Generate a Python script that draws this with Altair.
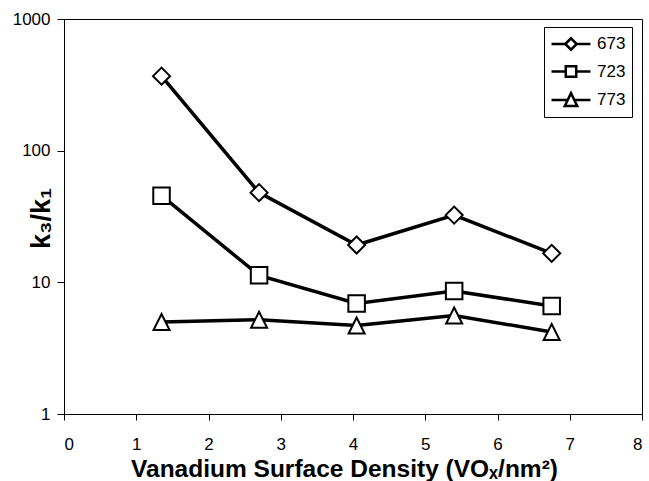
import altair as alt
import pandas as pd

# ---- data ----
density = [1.35, 2.7, 4.05, 5.4, 6.75]
k_673 = [368, 48, 19.2, 32.4, 16.6]
k_723 = [45.5, 11.3, 6.9, 8.6, 6.6]
k_773 = [5.0, 5.2, 4.7, 5.6, 4.2]
series_names = ["673", "723", "773"]
x_ticks = [0, 1, 2, 3, 4, 5, 6, 7, 8]
y_ticks = [1, 10, 100, 1000]

rows = []
for name, vals in zip(series_names, [k_673, k_723, k_773]):
    for d, v in zip(density, vals):
        rows.append({"x": d, "k": v, "series": name, "legend": name})
df = pd.DataFrame(rows)

FONT = "Liberation Sans"

x_enc = alt.X(
    "x:Q",
    scale=alt.Scale(domain=[0, 8], nice=False, zero=False),
    axis=alt.Axis(
        values=x_ticks,
        title="Vanadium Surface Density (VOₓ/nm²)",
        titleFontSize=24.5, titleFontWeight="bold", titleFont=FONT, titleColor="black",
        titleX=280, titleY=62, titleBaseline="alphabetic", titleAlign="center",
        labelFontSize=17, labelFont=FONT, labelColor="black", labelPadding=16,
        tickSize=6, tickColor="black", domainColor="black", grid=False,
    ),
)
y_enc = alt.Y(
    "k:Q",
    scale=alt.Scale(type="log", domain=[1, 1000], nice=False),
    axis=alt.Axis(
        values=y_ticks, format="d",
        title="k₃/k₁",
        titleFontSize=27, titleFontWeight="bold", titleFont=FONT, titleColor="black",
        titleX=-9, titleY=199, titleAngle=-90, titleBaseline="bottom", titleAlign="center",
        labelFontSize=17, labelFont=FONT, labelColor="black", labelPadding=7,
        tickSize=7, tickColor="black", domainColor="black", grid=False,
    ),
)

lines = alt.Chart(df).mark_line(color="black", strokeWidth=3.5).encode(
    x=x_enc, y=y_enc, detail="series:N"
)

points = alt.Chart(df).mark_point(
    filled=True, fill="white", stroke="black", strokeWidth=2, opacity=1
).encode(
    x=x_enc, y=y_enc,
    shape=alt.Shape(
        "series:N",
        scale=alt.Scale(domain=series_names, range=["diamond", "square", "M0,-1L1,1L-1,1Z"]),
        legend=None,
    ),
    size=alt.Size(
        "series:O",
        scale=alt.Scale(domain=series_names, range=[290, 256, 260]),
        legend=None,
    ),
)

legend_paths = [
    "M-2.05,0L-0.6,0M0.6,0L2.05,0M-0.6,0L0,-0.6L0.6,0L0,0.6Z",
    "M-2.05,0L-0.55,0M0.55,0L2.05,0M-0.55,-0.55L0.55,-0.55L0.55,0.55L-0.55,0.55Z",
    "M-2.05,0L-0.3,0M0.3,0L2.05,0M0,-0.72L0.65,0.62L-0.65,0.62Z",
]

legend_layer = alt.Chart(df).mark_point(
    filled=False, fill="white", stroke="black", strokeWidth=2.5, size=361, opacity=0
).encode(
    x=x_enc, y=y_enc,
    shape=alt.Shape(
        "legend:N",
        scale=alt.Scale(domain=series_names, range=legend_paths),
        legend=alt.Legend(
            title=None, orient="none", legendX=480, legendY=8,
            symbolSize=361, symbolStrokeWidth=2.5,
            symbolOffset=10,
            labelFontSize=17, labelFont=FONT, labelColor="black", labelOffset=15,
            rowPadding=5.5, padding=6, strokeColor="black", fillColor="white",
        ),
    ),
)

chart = alt.layer(lines, points, legend_layer).resolve_scale(
    shape="independent", size="independent"
).properties(
    width=578, height=395,
    padding={"left": 64, "top": 19, "right": 7, "bottom": 67},
    autosize=alt.AutoSizeParams(type="none"),
    background="white",
).configure(font=FONT).configure_view(stroke="black", strokeWidth=1)

chart.save("out.html", embed_options={"renderer": "svg", "actions": False})
